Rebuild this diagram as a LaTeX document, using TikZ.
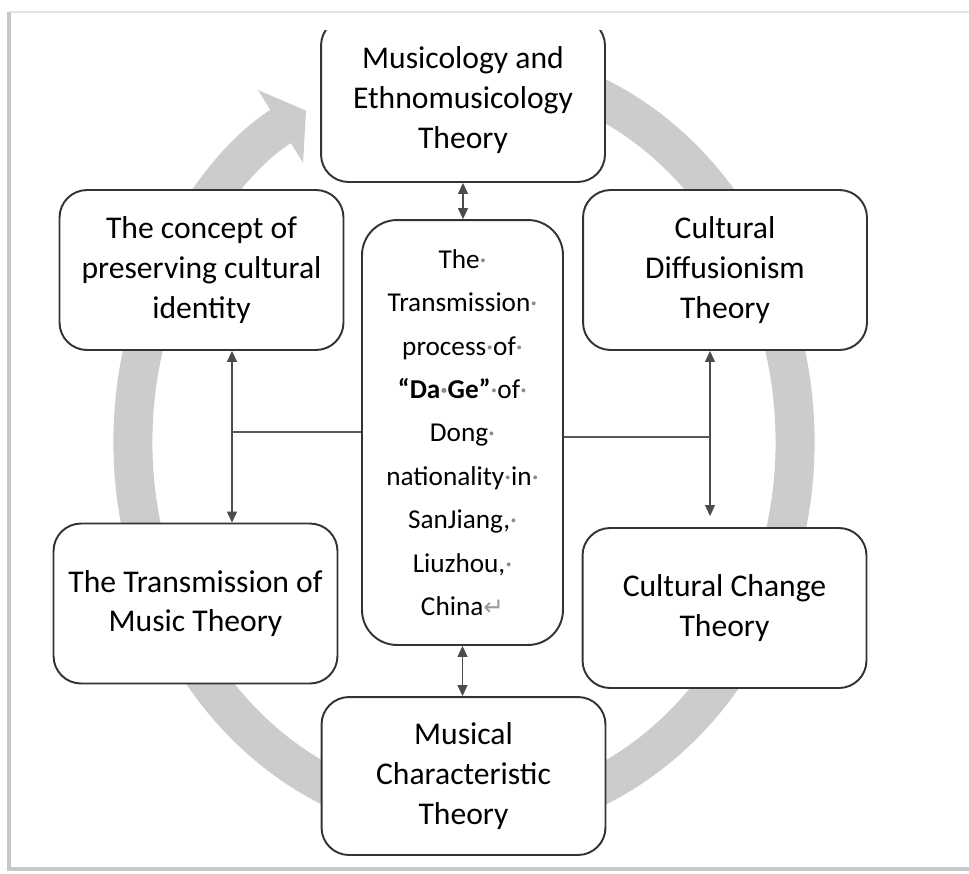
\documentclass[tikz,border=0pt]{standalone}
\usepackage{fontspec}
\setmainfont{Carlito}
\newfontfamily\symfont{DejaVu Sans}
\usetikzlibrary{arrows.meta}
\definecolor{ringgray}{RGB}{204,204,204}
\newcommand{\wdot}{{\color{black!45}·}}
\newcommand{\wret}{{\color{black!40}\symfont\fontsize{14}{14}\selectfont ↵}}

\begin{document}
\begin{tikzpicture}[x=0.02cm,y=0.02cm,
    theorybox/.style={draw=black!80,line width=1.1pt,fill=white,rounded corners=0.55cm,
        align=center,inner sep=0pt,minimum width=5.68cm,minimum height=3.2cm,
        font=\fontsize{18}{22.7}\selectfont},
    processbox/.style={draw=black!80,line width=1.1pt,fill=white,rounded corners=0.7cm,
        align=center,inner sep=0pt,minimum width=4.02cm,minimum height=8.5cm,
        font=\fontsize{15.5}{24.7}\selectfont},
    link/.style={draw=black!70,line width=0.6pt,
        {Triangle[width=0.2cm,length=0.22cm]}-{Triangle[width=0.2cm,length=0.22cm]}},
    thinline/.style={draw=black!65,line width=0.6pt},
    cyclearrow/.style={draw=ringgray,line width=0.78cm,-{Triangle[width=1.68cm,length=0.6cm]}}]
    \useasboundingbox (0,0) rectangle (969,-873);
    \fill[white] (0,0) rectangle (969,-873);
    \draw[black!10,line width=1.2pt] (9,-12) -- (969,-12);
    \draw[black!22,line width=2.5pt] (9,-12) -- (9,-869) -- (969,-869);
    \begin{scope}
        \clip (11,-30) rectangle (969,-866);
        \draw[cyclearrow] (577.2,-87.7) arc[start angle=70,end angle=-241.5,x radius=331,y radius=377];
        \node[theorybox,minimum height=3.28cm] at (463,-100) (musicology) {Musicology and\\Ethnomusicology\\Theory};
        \node[theorybox] at (201.5,-270) (identity) {The concept of\\preserving cultural\\identity};
        \node[theorybox] at (725,-270) (diffusion) {Cultural\\Diffusionism\\Theory};
        \node[theorybox] at (195.5,-603.5) (transmission) {The Transmission of\\Music Theory};
        \node[theorybox] at (724.5,-608) (change) {Cultural Change\\Theory};
        \node[theorybox,minimum height=3.16cm] at (463.5,-776) (character) {Musical\\Characteristic\\Theory};
        \node[processbox] at (462.5,-432.5) (process) {The\wdot\\Transmission\wdot\\process\wdot of\wdot\\
            \textbf{“Da\wdot Ge”}\wdot of\wdot\\Dong\wdot\\nationality\wdot in\wdot\\SanJiang,\wdot\\Liuzhou,\wdot\\China\wret};
        \coordinate (lj) at (232,-432);
        \coordinate (rj) at (710,-437);
        \draw[link] (musicology.south) -- (musicology.south |- process.north);
        \draw[link] (process.south) -- (process.south |- character.north);
        \draw[link] (identity.south -| lj) -- (transmission.north -| lj);
        \draw[link,shorten >=0.22cm] (diffusion.south -| rj) -- (change.north -| rj);
        \draw[thinline] (lj) -- (lj -| process.west);
        \draw[thinline] (rj) -- (rj -| process.east);
    \end{scope}
\end{tikzpicture}
\end{document}
